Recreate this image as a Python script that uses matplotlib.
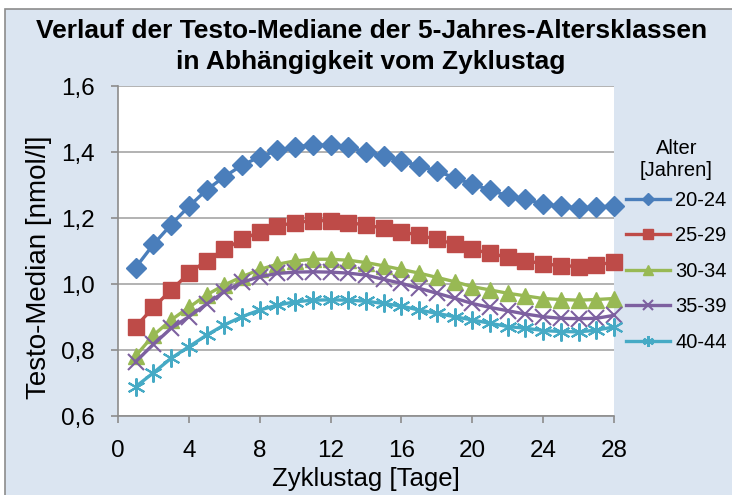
import matplotlib.pyplot as plt
from matplotlib.patches import Rectangle

plt.rcParams["font.family"] = ["Liberation Sans", "DejaVu Sans"]

DAYS = list(range(1, 29))

AGE_20_24 = [1.05, 1.12, 1.18, 1.235, 1.285, 1.325, 1.36, 1.385, 1.405, 1.415,
             1.422, 1.42, 1.414, 1.40, 1.388, 1.373, 1.358, 1.342, 1.322, 1.302,
             1.285, 1.267, 1.257, 1.242, 1.236, 1.23, 1.234, 1.236]
AGE_25_29 = [0.871, 0.929, 0.982, 1.032, 1.071, 1.105, 1.135, 1.158, 1.176, 1.186,
             1.192, 1.192, 1.186, 1.179, 1.169, 1.158, 1.148, 1.135, 1.121, 1.105,
             1.093, 1.081, 1.071, 1.061, 1.056, 1.053, 1.058, 1.066]
AGE_30_34 = [0.782, 0.845, 0.891, 0.929, 0.967, 0.997, 1.022, 1.044, 1.06, 1.07,
             1.075, 1.075, 1.072, 1.065, 1.055, 1.044, 1.033, 1.020, 1.007, 0.992,
             0.982, 0.972, 0.964, 0.956, 0.953, 0.951, 0.953, 0.956]
AGE_35_39 = [0.765, 0.817, 0.866, 0.901, 0.939, 0.977, 1.005, 1.022, 1.032, 1.036,
             1.037, 1.036, 1.033, 1.027, 1.014, 1.002, 0.987, 0.972, 0.957, 0.941,
             0.929, 0.919, 0.909, 0.901, 0.896, 0.895, 0.896, 0.905]
AGE_40_44 = [0.689, 0.731, 0.775, 0.810, 0.845, 0.876, 0.901, 0.921, 0.936, 0.946,
             0.951, 0.952, 0.951, 0.948, 0.941, 0.933, 0.921, 0.911, 0.901, 0.891,
             0.881, 0.871, 0.866, 0.859, 0.856, 0.855, 0.860, 0.870]

SERIES = [
    ("20-24", AGE_20_24, "#4a7ebb", "D", 10, 1),
    ("25-29", AGE_25_29, "#be4b48", "s", 12, 1),
    ("30-34", AGE_30_34, "#98b954", "^", 12, 1),
    ("35-39", AGE_35_39, "#7d60a0", "x", 11, 1.5),
    ("40-44", AGE_40_44, "#46aac5", (6, 2, 0), 13, 1.5),
]

X_TICKS = [0, 4, 8, 12, 16, 20, 24, 28]
Y_TICKS = [0.6, 0.8, 1.0, 1.2, 1.4, 1.6]
Y_TICK_LABELS = ["0,6", "0,8", "1,0", "1,2", "1,4", "1,6"]

W, H = 732, 495

fig = plt.figure(figsize=(W / 100, H / 100), dpi=100, facecolor="white")
fig.patches.append(Rectangle((5 / W, -0.01), 1.0, 1 - 9 / H + 0.01,
                             transform=fig.transFigure, facecolor="#dbe5f1",
                             edgecolor="#8c8c8c", linewidth=1.2, zorder=-10))

ax = fig.add_axes([118 / W, 1 - 416 / H, 496 / W, 330 / H])
ax.set_facecolor("white")

for label, vals, color, marker, ms, mew in SERIES:
    ax.plot(DAYS, vals, color=color, linewidth=2.4, marker=marker,
            markersize=ms, markeredgewidth=mew, markeredgecolor=color,
            markerfacecolor=color, label=label, clip_on=False)

ax.set_xlim(0, 28)
ax.set_ylim(0.6, 1.6)
ax.set_xticks(X_TICKS)
ax.set_yticks(Y_TICKS)
ax.set_yticklabels(Y_TICK_LABELS)
ax.tick_params(axis="both", labelsize=17.5, color="#8c8c8c", length=5,
               width=1.2, direction="out")
ax.tick_params(axis="y", pad=12)
ax.tick_params(axis="x", pad=12)
ax.grid(axis="y", color="#a6a6a6", linewidth=1.2)
ax.set_axisbelow(True)
for side in ["top", "right"]:
    ax.spines[side].set_visible(False)
for side in ["left", "bottom"]:
    ax.spines[side].set_color("#8c8c8c")
    ax.spines[side].set_linewidth(1.2)

ax.set_xlabel("Zyklustag [Tage]", fontsize=18.5, labelpad=4)
ax.set_ylabel("Testo-Median [nmol/l]", fontsize=20)
ax.yaxis.set_label_coords(-66 / 496, 0.45)

fig.suptitle("Verlauf der Testo-Mediane der 5-Jahres-Altersklassen\n"
             "in Abhängigkeit vom Zyklustag",
             x=0.507, y=0.962, fontsize=19, fontweight="bold", linespacing=1.4)

leg = ax.legend(title="Alter\n[Jahren]", loc="upper left",
                bbox_to_anchor=(626 / W, 1 - 139 / H),
                bbox_transform=fig.transFigure, frameon=False, fontsize=14.5,
                title_fontsize=14.5, handlelength=2.2, handletextpad=0.25,
                labelspacing=0.82, borderpad=0, borderaxespad=0,
                markerscale=0.6)
leg.get_title().set_multialignment("center")
leg._legend_box.sep = 7.6

fig.savefig("out.png", dpi=100, facecolor=fig.get_facecolor())
